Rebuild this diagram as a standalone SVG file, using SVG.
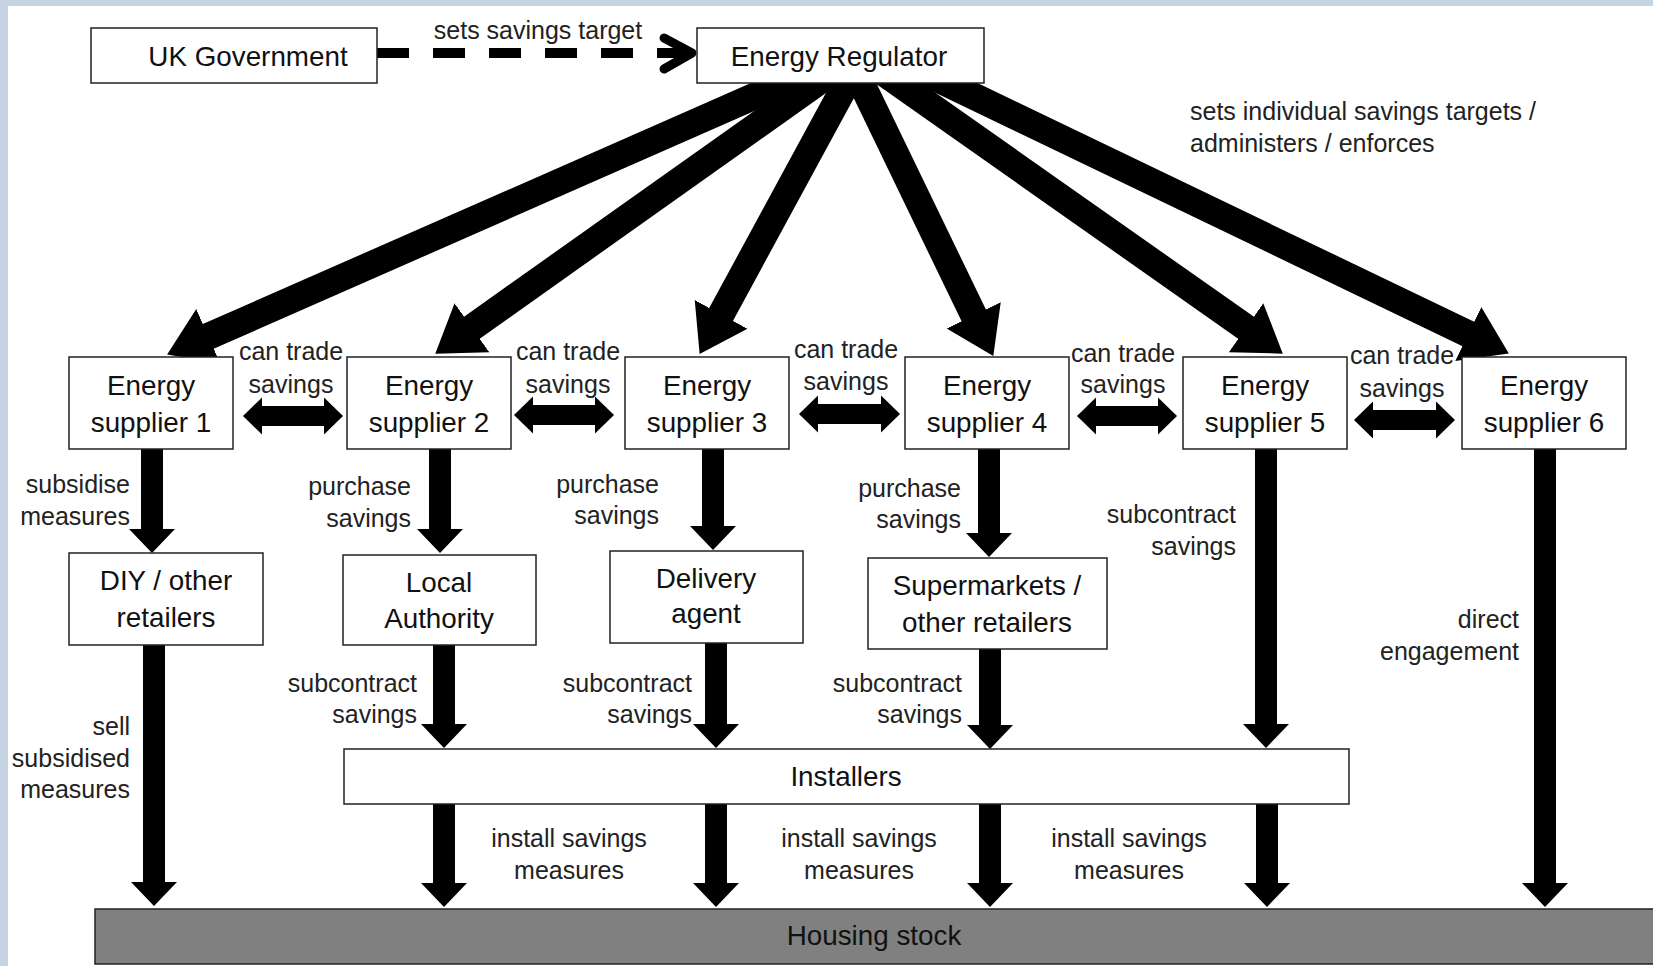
<svg xmlns="http://www.w3.org/2000/svg" width="1653" height="966" viewBox="0 0 1653 966">
<style>
.box{fill:#fff;stroke:#222;stroke-width:1.5}
.hs{fill:#808080;stroke:#222;stroke-width:1.5}
.nt{font-family:"Liberation Sans",Arial,sans-serif;font-size:27.8px;fill:#111;text-anchor:middle}
.lb{font-family:"Liberation Sans",Arial,sans-serif;font-size:25px;fill:#222}
.m{text-anchor:middle}.e{text-anchor:end}.s{text-anchor:start}
.dg{stroke:#000;stroke-width:27;fill:none;marker-end:url(#hd)}
.vt{stroke:#000;stroke-width:22;fill:none;marker-end:url(#hv)}
.hz{stroke:#000;stroke-width:20;fill:none;marker-start:url(#hh);marker-end:url(#hh)}
</style>
<defs>
<marker id="hd" markerUnits="userSpaceOnUse" viewBox="0 -31 45 62" refX="22" refY="0" markerWidth="45" markerHeight="62" orient="auto"><path d="M0,-30 L45,0 L0,30 Z" fill="#000"/></marker>
<marker id="hv" markerUnits="userSpaceOnUse" viewBox="0 -24 24 48" refX="11" refY="0" markerWidth="24" markerHeight="48" orient="auto"><path d="M0,-23 L24,0 L0,23 Z" fill="#000"/></marker>
<marker id="hh" markerUnits="userSpaceOnUse" viewBox="0 -19 19 38" refX="8" refY="0" markerWidth="19" markerHeight="38" orient="auto-start-reverse"><path d="M0,-18.5 L19,0 L0,18.5 Z" fill="#000"/></marker>
</defs>
<rect x="0" y="0" width="1653" height="966" fill="#fff"/>
<rect x="0" y="0" width="1653" height="6" fill="#c7d4e3"/>
<rect x="0" y="0" width="8" height="966" fill="#c7d4e3"/>

<g id="connectors">
<line x1="377" y1="53" x2="689" y2="53" stroke="#000" stroke-width="10" stroke-dasharray="32 24"/>
<polyline points="664,38 692,53 664,69" fill="none" stroke="#000" stroke-width="9" stroke-linecap="round" stroke-linejoin="round"/>
<line class="dg" x1="837" y1="60" x2="188.2" y2="345.2"/>
<line class="dg" x1="849.2" y1="60" x2="454" y2="340.4"/>
<line class="dg" x1="859.2" y1="60" x2="710.6" y2="333.7"/>
<line class="dg" x1="850.3" y1="60" x2="983.3" y2="335.2"/>
<line class="dg" x1="865.5" y1="60" x2="1264" y2="340.4"/>
<line class="dg" x1="898.6" y1="60" x2="1488.1" y2="343.5"/>
<line class="hz" x1="254" y1="416" x2="332" y2="416"/>
<line class="hz" x1="525" y1="415" x2="603" y2="415"/>
<line class="hz" x1="810" y1="414" x2="889" y2="414"/>
<line class="hz" x1="1088" y1="416" x2="1166" y2="416"/>
<line class="hz" x1="1365" y1="420" x2="1444" y2="420"/>
<line class="vt" x1="152" y1="447" x2="152" y2="540"/>
<line class="vt" x1="440" y1="447" x2="440" y2="540"/>
<line class="vt" x1="713" y1="447" x2="713" y2="537"/>
<line class="vt" x1="989" y1="447" x2="989" y2="544"/>
<line class="vt" x1="1266" y1="447" x2="1266" y2="735"/>
<line class="vt" x1="1545" y1="447" x2="1545" y2="894"/>
<line class="vt" x1="154" y1="643" x2="154" y2="893"/>
<line class="vt" x1="444" y1="643" x2="444" y2="735"/>
<line class="vt" x1="716" y1="641" x2="716" y2="735"/>
<line class="vt" x1="990" y1="647" x2="990" y2="736"/>
<line class="vt" x1="444" y1="802" x2="444" y2="894"/>
<line class="vt" x1="716" y1="802" x2="716" y2="894"/>
<line class="vt" x1="990" y1="802" x2="990" y2="894"/>
<line class="vt" x1="1267" y1="802" x2="1267" y2="894"/>
</g>

<g id="edge-labels">
<text class="lb m" x="538" y="39">sets savings target</text>
<text class="lb s" x="1190" y="120">sets individual savings targets /</text>
<text class="lb s" x="1190" y="152">administers / enforces</text>
<text class="lb m" x="291" y="360">can trade</text><text class="lb m" x="291" y="393">savings</text>
<text class="lb m" x="568" y="360">can trade</text><text class="lb m" x="568" y="393">savings</text>
<text class="lb m" x="846" y="358">can trade</text><text class="lb m" x="846" y="390">savings</text>
<text class="lb m" x="1123" y="362">can trade</text><text class="lb m" x="1123" y="393">savings</text>
<text class="lb m" x="1402" y="364">can trade</text><text class="lb m" x="1402" y="397">savings</text>
<text class="lb e" x="130" y="493">subsidise</text><text class="lb e" x="130" y="525">measures</text>
<text class="lb e" x="411" y="495">purchase</text><text class="lb e" x="411" y="527">savings</text>
<text class="lb e" x="659" y="493">purchase</text><text class="lb e" x="659" y="524">savings</text>
<text class="lb e" x="961" y="497">purchase</text><text class="lb e" x="961" y="528">savings</text>
<text class="lb e" x="1236" y="523">subcontract</text><text class="lb e" x="1236" y="555">savings</text>
<text class="lb e" x="1519" y="628">direct</text><text class="lb e" x="1519" y="660">engagement</text>
<text class="lb e" x="130" y="735">sell</text><text class="lb e" x="130" y="767">subsidised</text><text class="lb e" x="130" y="798">measures</text>
<text class="lb e" x="417" y="692">subcontract</text><text class="lb e" x="417" y="723">savings</text>
<text class="lb e" x="692" y="692">subcontract</text><text class="lb e" x="692" y="723">savings</text>
<text class="lb e" x="962" y="692">subcontract</text><text class="lb e" x="962" y="723">savings</text>
<text class="lb m" x="569" y="847">install savings</text><text class="lb m" x="569" y="879">measures</text>
<text class="lb m" x="859" y="847">install savings</text><text class="lb m" x="859" y="879">measures</text>
<text class="lb m" x="1129" y="847">install savings</text><text class="lb m" x="1129" y="879">measures</text>
</g>

<g id="uk-government"><rect class="box" x="91" y="28" width="286" height="55"/><text class="nt" x="248" y="66">UK Government</text></g>
<g id="energy-regulator"><rect class="box" x="697" y="28" width="287" height="55"/><text class="nt" x="839" y="66">Energy Regulator</text></g>
<g id="supplier-1"><rect class="box" x="69" y="357" width="164" height="92"/><text class="nt" x="151" y="395">Energy</text><text class="nt" x="151" y="432">supplier 1</text></g>
<g id="supplier-2"><rect class="box" x="347" y="357" width="164" height="92"/><text class="nt" x="429" y="395">Energy</text><text class="nt" x="429" y="432">supplier 2</text></g>
<g id="supplier-3"><rect class="box" x="625" y="357" width="164" height="92"/><text class="nt" x="707" y="395">Energy</text><text class="nt" x="707" y="432">supplier 3</text></g>
<g id="supplier-4"><rect class="box" x="905" y="357" width="164" height="92"/><text class="nt" x="987" y="395">Energy</text><text class="nt" x="987" y="432">supplier 4</text></g>
<g id="supplier-5"><rect class="box" x="1183" y="357" width="164" height="92"/><text class="nt" x="1265" y="395">Energy</text><text class="nt" x="1265" y="432">supplier 5</text></g>
<g id="supplier-6"><rect class="box" x="1462" y="357" width="164" height="92"/><text class="nt" x="1544" y="395">Energy</text><text class="nt" x="1544" y="432">supplier 6</text></g>
<g id="diy-retailers"><rect class="box" x="69" y="553" width="194" height="92"/><text class="nt" x="166" y="590">DIY / other</text><text class="nt" x="166" y="627">retailers</text></g>
<g id="local-authority"><rect class="box" x="343" y="555" width="193" height="90"/><text class="nt" x="439" y="592">Local</text><text class="nt" x="439" y="628">Authority</text></g>
<g id="delivery-agent"><rect class="box" x="610" y="551" width="193" height="92"/><text class="nt" x="706" y="588">Delivery</text><text class="nt" x="706" y="623">agent</text></g>
<g id="supermarkets"><rect class="box" x="868" y="558" width="239" height="91"/><text class="nt" x="987" y="595">Supermarkets /</text><text class="nt" x="987" y="632">other retailers</text></g>
<g id="installers"><rect class="box" x="344" y="749" width="1005" height="55"/><text class="nt" x="846" y="786">Installers</text></g>
<g id="housing-stock"><rect class="hs" x="95" y="909" width="1570" height="55"/><text class="nt" x="874" y="945">Housing stock</text></g>
</svg>
